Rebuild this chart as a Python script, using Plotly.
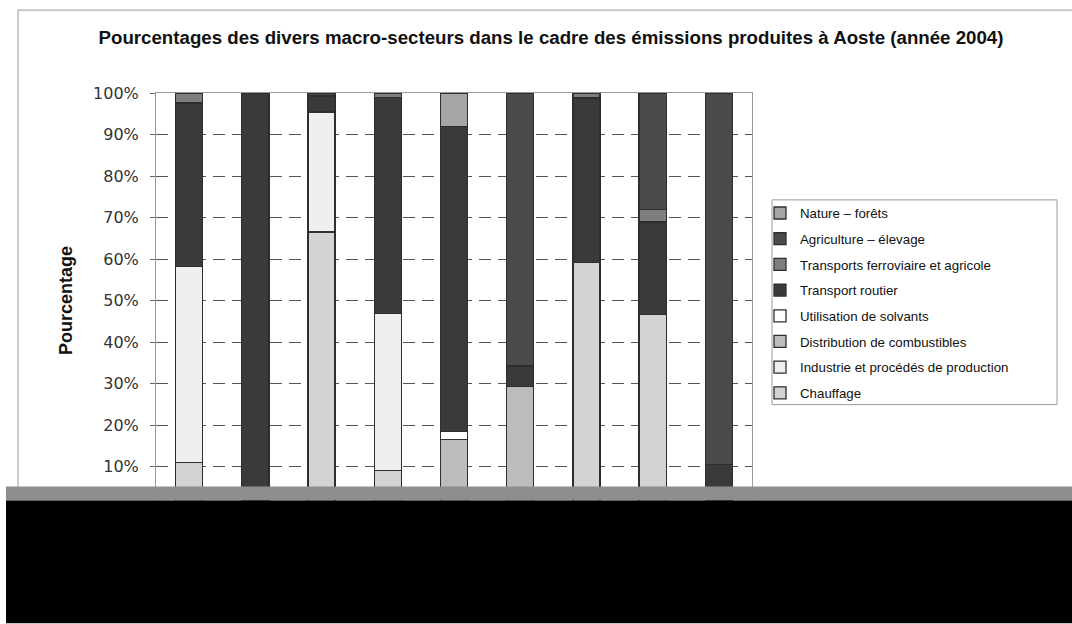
import plotly.graph_objects as go

# Emission shares (%) per pollutant column, listed from the bottom of each stack upwards
categories = ["1", "2", "3", "4", "5", "6", "7", "8", "9"]
chauffage = [11.0, 0, 66.5, 9.0, 0, 0, 59.2, 46.6, 0]
industrie = [47.2, 0, 28.9, 37.8, 0, 0, 0, 0, 0]
distribution = [0, 0, 0, 0, 16.5, 29.3, 0, 0, 0]
solvants = [0, 0, 0, 0, 1.9, 0, 0, 0, 0]
routier = [39.4, 100, 3.9, 52.2, 73.6, 4.9, 39.6, 22.3, 10.5]
ferroviaire = [2.4, 0, 0, 1.0, 0, 0, 1.2, 3.1, 0]
agriculture = [0, 0, 0.7, 0, 0, 65.8, 0, 28.0, 89.5]
nature = [0, 0, 0, 0, 8.0, 0, 0, 0, 0]

series = [
    ("Chauffage", chauffage, "#d3d3d3"),
    ("Industrie et procédés de production", industrie, "#efefef"),
    ("Distribution de combustibles", distribution, "#bcbcbc"),
    ("Utilisation de solvants", solvants, "#ffffff"),
    ("Transport routier", routier, "#3a3a3a"),
    ("Transports ferroviaire et agricole", ferroviaire, "#7e7e7e"),
    ("Agriculture – élevage", agriculture, "#4b4b4b"),
    ("Nature – forêts", nature, "#a6a6a6"),
]

W, H = 1072, 624
L, R, T, B = 156, 752, 93, 508.5  # plot area in pixels


def px(x):
    return (x - L) / (R - L)


def py(y):
    return (B - y) / (B - T)


fig = go.Figure()
for i, (name, vals, col) in enumerate(series):
    fig.add_trace(go.Bar(
        x=categories, y=vals, name=name, legendgroup=name,
        legendrank=len(series) - i,  # top of the stack listed first
        marker=dict(color=col, line=dict(color="#2e2e2e", width=1.3)),
    ))

fig.update_layout(
    width=W, height=H,
    margin=dict(l=L, r=W - R, t=T, b=H - B),
    paper_bgcolor="white", plot_bgcolor="white",
    barmode="stack", bargap=0.59,
    title=dict(
        text="<b>Pourcentages des divers macro-secteurs dans le cadre des émissions produites à Aoste (année 2004)</b>",
        x=551 / W, xanchor="center", xref="container",
        y=1 - 37 / H, yanchor="middle", yref="container",
        font=dict(family="Liberation Sans", size=18.7, color="#111"),
    ),
    font=dict(family="Liberation Sans", color="#111"),
    showlegend=True,
    legend=dict(
        x=px(760), y=py(198), xanchor="left", yanchor="top",
        traceorder="grouped", tracegroupgap=5.4,
        font=dict(family="Liberation Sans", size=13.3, color="#111"),
        borderwidth=0, bgcolor="rgba(0,0,0,0)",
    ),
)

fig.update_xaxes(
    showticklabels=False, ticks="",
    showline=True, linecolor="#9a9a9a", linewidth=1, mirror=True,
    showgrid=False,
)
fig.update_yaxes(
    range=[0, 100], dtick=10, ticksuffix="%",
    tickfont=dict(family="DejaVu Sans", size=16, color="#333"),
    ticks="outside", ticklen=5, tickcolor="#666", ticklabelstandoff=8,
    showline=True, linecolor="#9a9a9a", linewidth=1, mirror=True,
    showgrid=True, gridcolor="#555", gridwidth=1, griddash="12px,7px",
    zeroline=False,
    title=dict(text="<b>Pourcentage</b>", standoff=15,
               font=dict(family="Liberation Sans", size=18, color="#111")),
)

shapes = [
    # outer chart frame (top and left edges)
    dict(type="line", xref="paper", yref="paper", x0=px(18), x1=px(1072),
         y0=py(10), y1=py(10), line=dict(color="#9a9a9a", width=1)),
    dict(type="line", xref="paper", yref="paper", x0=px(18), x1=px(18),
         y0=py(10), y1=py(490), line=dict(color="#9a9a9a", width=1)),
    # legend box
    dict(type="rect", xref="paper", yref="paper", x0=px(772), x1=px(1057),
         y0=py(200), y1=py(405), line=dict(color="#9a9a9a", width=1),
         fillcolor="rgba(0,0,0,0)"),
    # torn lower edge of the page
    dict(type="rect", xref="paper", yref="paper", x0=px(6), x1=px(1072),
         y0=py(487), y1=py(501), line=dict(width=0), fillcolor="#8e8e8e",
         layer="above"),
    dict(type="rect", xref="paper", yref="paper", x0=px(6), x1=px(1072),
         y0=py(501), y1=py(624), line=dict(width=0), fillcolor="#000000",
         layer="above"),
]
fig.update_layout(shapes=shapes)

fig.write_html("out.html")
